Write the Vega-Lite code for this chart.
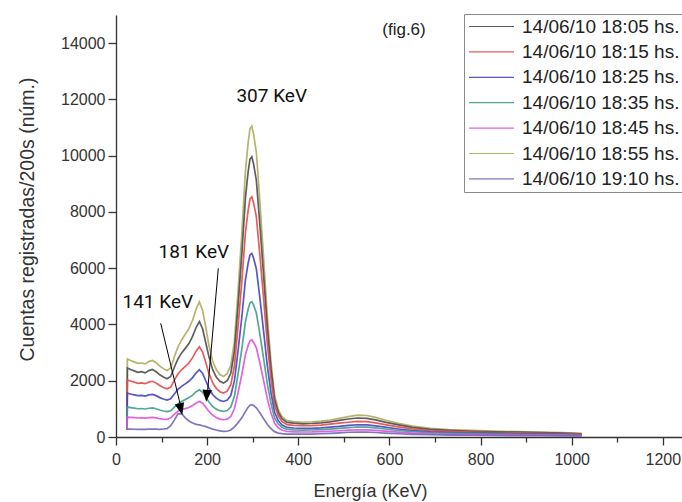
{
"$schema": "https://vega.github.io/schema/vega-lite/v6.json",
"width": 566, "height": 422,
"autosize": {"type": "none"},
"padding": {"left": 116, "top": 15, "right": 0, "bottom": 65},
"background": "white",
"config": {"view": {"stroke": null}, "font": "Liberation Sans"},
"datasets": {
"notes": [
{"label": "307 KeV", "x": 341.7, "y": 12121},
{"label": "181 KeV", "x": 170.7, "y": 6587},
{"label": "141 KeV", "x": 91.7, "y": 4809}
],
"fig": [{"label": "(fig.6)", "x": 632, "y": 14467}],
"arrows": [
{"name": "181", "x1": 224.5, "y1": 5996, "x2": 201.2, "y2": 1671, "hx": 199.1, "hy": 1463},
{"name": "141", "x1": 98.1, "y1": 4042, "x2": 140.4, "y2": 1198, "hx": 142.3, "hy": 990}
],
"spec": [
{"t":"18:55","e":24,"c":250},{"t":"18:55","e":25,"c":2770},{"t":"18:55","e":32,"c":2720},{"t":"18:55","e":40,"c":2670},{"t":"18:55","e":48,"c":2620},{"t":"18:55","e":56,"c":2630},{"t":"18:55","e":64,"c":2600},{"t":"18:55","e":72,"c":2680},{"t":"18:55","e":80,"c":2720},{"t":"18:55","e":88,"c":2640},{"t":"18:55","e":96,"c":2520},{"t":"18:55","e":104,"c":2430},{"t":"18:55","e":112,"c":2360},{"t":"18:55","e":120,"c":2450},{"t":"18:55","e":128,"c":2850},{"t":"18:55","e":136,"c":3200},{"t":"18:55","e":144,"c":3450},{"t":"18:55","e":152,"c":3650},{"t":"18:55","e":160,"c":3850},{"t":"18:55","e":168,"c":4150},{"t":"18:55","e":176,"c":4550},{"t":"18:55","e":183,"c":4800},{"t":"18:55","e":190,"c":4500},{"t":"18:55","e":197,"c":3900},{"t":"18:55","e":204,"c":3250},{"t":"18:55","e":212,"c":2700},{"t":"18:55","e":220,"c":2400},{"t":"18:55","e":228,"c":2220},{"t":"18:55","e":236,"c":2150},{"t":"18:55","e":244,"c":2250},{"t":"18:55","e":252,"c":2544},{"t":"18:55","e":260,"c":3424},{"t":"18:55","e":268,"c":5234},{"t":"18:55","e":276,"c":7190},{"t":"18:55","e":284,"c":9440},{"t":"18:55","e":290,"c":10466},{"t":"18:55","e":294,"c":10954},{"t":"18:55","e":298,"c":11050},{"t":"18:55","e":302,"c":10754},{"t":"18:55","e":308,"c":10114},{"t":"18:55","e":316,"c":8298},{"t":"18:55","e":324,"c":6336},{"t":"18:55","e":332,"c":4306},{"t":"18:55","e":340,"c":2688},{"t":"18:55","e":348,"c":1482},{"t":"18:55","e":356,"c":982},{"t":"18:55","e":364,"c":727},{"t":"18:55","e":375,"c":580},{"t":"18:55","e":390,"c":545},{"t":"18:55","e":410,"c":525},{"t":"18:55","e":430,"c":535},{"t":"18:55","e":450,"c":565},{"t":"18:55","e":470,"c":605},{"t":"18:55","e":490,"c":665},{"t":"18:55","e":510,"c":725},{"t":"18:55","e":530,"c":780},{"t":"18:55","e":550,"c":765},{"t":"18:55","e":570,"c":695},{"t":"18:55","e":590,"c":605},{"t":"18:55","e":620,"c":485},{"t":"18:55","e":650,"c":385},{"t":"18:55","e":690,"c":305},{"t":"18:55","e":730,"c":262},{"t":"18:55","e":780,"c":232},{"t":"18:55","e":830,"c":210},{"t":"18:55","e":880,"c":190},{"t":"18:55","e":930,"c":172},{"t":"18:55","e":980,"c":152},{"t":"18:55","e":1022,"c":130},
{"t":"18:05","e":24,"c":250},{"t":"18:05","e":25,"c":2450},{"t":"18:05","e":32,"c":2400},{"t":"18:05","e":40,"c":2350},{"t":"18:05","e":48,"c":2300},{"t":"18:05","e":56,"c":2320},{"t":"18:05","e":64,"c":2280},{"t":"18:05","e":72,"c":2360},{"t":"18:05","e":80,"c":2400},{"t":"18:05","e":88,"c":2320},{"t":"18:05","e":96,"c":2210},{"t":"18:05","e":104,"c":2130},{"t":"18:05","e":112,"c":2070},{"t":"18:05","e":120,"c":2150},{"t":"18:05","e":128,"c":2480},{"t":"18:05","e":136,"c":2780},{"t":"18:05","e":144,"c":2990},{"t":"18:05","e":152,"c":3150},{"t":"18:05","e":160,"c":3320},{"t":"18:05","e":168,"c":3580},{"t":"18:05","e":176,"c":3900},{"t":"18:05","e":183,"c":4100},{"t":"18:05","e":190,"c":3850},{"t":"18:05","e":197,"c":3350},{"t":"18:05","e":204,"c":2850},{"t":"18:05","e":212,"c":2400},{"t":"18:05","e":220,"c":2130},{"t":"18:05","e":228,"c":1980},{"t":"18:05","e":236,"c":1915},{"t":"18:05","e":244,"c":2000},{"t":"18:05","e":252,"c":2266},{"t":"18:05","e":260,"c":3061},{"t":"18:05","e":268,"c":4701},{"t":"18:05","e":276,"c":6468},{"t":"18:05","e":284,"c":8500},{"t":"18:05","e":290,"c":9432},{"t":"18:05","e":294,"c":9873},{"t":"18:05","e":298,"c":9960},{"t":"18:05","e":302,"c":9693},{"t":"18:05","e":308,"c":9121},{"t":"18:05","e":316,"c":7486},{"t":"18:05","e":324,"c":5715},{"t":"18:05","e":332,"c":3885},{"t":"18:05","e":340,"c":2429},{"t":"18:05","e":348,"c":1337},{"t":"18:05","e":356,"c":884},{"t":"18:05","e":364,"c":653},{"t":"18:05","e":375,"c":520},{"t":"18:05","e":390,"c":490},{"t":"18:05","e":410,"c":470},{"t":"18:05","e":430,"c":480},{"t":"18:05","e":450,"c":505},{"t":"18:05","e":470,"c":540},{"t":"18:05","e":490,"c":590},{"t":"18:05","e":510,"c":640},{"t":"18:05","e":530,"c":675},{"t":"18:05","e":550,"c":665},{"t":"18:05","e":570,"c":610},{"t":"18:05","e":590,"c":530},{"t":"18:05","e":620,"c":430},{"t":"18:05","e":650,"c":340},{"t":"18:05","e":690,"c":270},{"t":"18:05","e":730,"c":235},{"t":"18:05","e":780,"c":205},{"t":"18:05","e":830,"c":185},{"t":"18:05","e":880,"c":170},{"t":"18:05","e":930,"c":155},{"t":"18:05","e":980,"c":135},{"t":"18:05","e":1022,"c":115},
{"t":"18:15","e":24,"c":250},{"t":"18:15","e":25,"c":2030},{"t":"18:15","e":32,"c":1990},{"t":"18:15","e":40,"c":1950},{"t":"18:15","e":48,"c":1910},{"t":"18:15","e":56,"c":1925},{"t":"18:15","e":64,"c":1895},{"t":"18:15","e":72,"c":1950},{"t":"18:15","e":80,"c":1980},{"t":"18:15","e":88,"c":1920},{"t":"18:15","e":96,"c":1830},{"t":"18:15","e":104,"c":1760},{"t":"18:15","e":112,"c":1710},{"t":"18:15","e":120,"c":1770},{"t":"18:15","e":128,"c":2020},{"t":"18:15","e":136,"c":2240},{"t":"18:15","e":144,"c":2390},{"t":"18:15","e":152,"c":2510},{"t":"18:15","e":160,"c":2630},{"t":"18:15","e":168,"c":2820},{"t":"18:15","e":176,"c":3060},{"t":"18:15","e":183,"c":3210},{"t":"18:15","e":190,"c":3020},{"t":"18:15","e":197,"c":2650},{"t":"18:15","e":204,"c":2260},{"t":"18:15","e":212,"c":1930},{"t":"18:15","e":220,"c":1730},{"t":"18:15","e":228,"c":1610},{"t":"18:15","e":236,"c":1560},{"t":"18:15","e":244,"c":1630},{"t":"18:15","e":252,"c":1858},{"t":"18:15","e":260,"c":2549},{"t":"18:15","e":268,"c":3970},{"t":"18:15","e":276,"c":5503},{"t":"18:15","e":284,"c":7264},{"t":"18:15","e":290,"c":8067},{"t":"18:15","e":294,"c":8453},{"t":"18:15","e":298,"c":8535},{"t":"18:15","e":302,"c":8313},{"t":"18:15","e":308,"c":7823},{"t":"18:15","e":316,"c":6420},{"t":"18:15","e":324,"c":4895},{"t":"18:15","e":332,"c":3324},{"t":"18:15","e":340,"c":2077},{"t":"18:15","e":348,"c":1144},{"t":"18:15","e":356,"c":754},{"t":"18:15","e":364,"c":554},{"t":"18:15","e":375,"c":440},{"t":"18:15","e":390,"c":415},{"t":"18:15","e":410,"c":400},{"t":"18:15","e":430,"c":405},{"t":"18:15","e":450,"c":425},{"t":"18:15","e":470,"c":455},{"t":"18:15","e":490,"c":490},{"t":"18:15","e":510,"c":525},{"t":"18:15","e":530,"c":555},{"t":"18:15","e":550,"c":545},{"t":"18:15","e":570,"c":500},{"t":"18:15","e":590,"c":440},{"t":"18:15","e":620,"c":360},{"t":"18:15","e":650,"c":290},{"t":"18:15","e":690,"c":230},{"t":"18:15","e":730,"c":200},{"t":"18:15","e":780,"c":175},{"t":"18:15","e":830,"c":158},{"t":"18:15","e":880,"c":145},{"t":"18:15","e":930,"c":132},{"t":"18:15","e":980,"c":115},{"t":"18:15","e":1022,"c":100},
{"t":"18:25","e":24,"c":250},{"t":"18:25","e":25,"c":1560},{"t":"18:25","e":32,"c":1530},{"t":"18:25","e":40,"c":1500},{"t":"18:25","e":48,"c":1470},{"t":"18:25","e":56,"c":1480},{"t":"18:25","e":64,"c":1455},{"t":"18:25","e":72,"c":1495},{"t":"18:25","e":80,"c":1515},{"t":"18:25","e":88,"c":1470},{"t":"18:25","e":96,"c":1400},{"t":"18:25","e":104,"c":1350},{"t":"18:25","e":112,"c":1315},{"t":"18:25","e":120,"c":1355},{"t":"18:25","e":128,"c":1530},{"t":"18:25","e":136,"c":1690},{"t":"18:25","e":144,"c":1800},{"t":"18:25","e":152,"c":1890},{"t":"18:25","e":160,"c":1980},{"t":"18:25","e":168,"c":2110},{"t":"18:25","e":176,"c":2280},{"t":"18:25","e":183,"c":2390},{"t":"18:25","e":190,"c":2260},{"t":"18:25","e":197,"c":2000},{"t":"18:25","e":204,"c":1740},{"t":"18:25","e":212,"c":1510},{"t":"18:25","e":220,"c":1380},{"t":"18:25","e":228,"c":1300},{"t":"18:25","e":236,"c":1263},{"t":"18:25","e":244,"c":1310},{"t":"18:25","e":252,"c":1483},{"t":"18:25","e":260,"c":2011},{"t":"18:25","e":268,"c":3086},{"t":"18:25","e":276,"c":4247},{"t":"18:25","e":284,"c":5582},{"t":"18:25","e":290,"c":6185},{"t":"18:25","e":294,"c":6471},{"t":"18:25","e":298,"c":6527},{"t":"18:25","e":302,"c":6351},{"t":"18:25","e":308,"c":5973},{"t":"18:25","e":316,"c":4901},{"t":"18:25","e":324,"c":3738},{"t":"18:25","e":332,"c":2537},{"t":"18:25","e":340,"c":1588},{"t":"18:25","e":348,"c":880},{"t":"18:25","e":356,"c":581},{"t":"18:25","e":364,"c":432},{"t":"18:25","e":375,"c":340},{"t":"18:25","e":390,"c":320},{"t":"18:25","e":410,"c":305},{"t":"18:25","e":430,"c":310},{"t":"18:25","e":450,"c":325},{"t":"18:25","e":470,"c":350},{"t":"18:25","e":490,"c":380},{"t":"18:25","e":510,"c":410},{"t":"18:25","e":530,"c":435},{"t":"18:25","e":550,"c":428},{"t":"18:25","e":570,"c":395},{"t":"18:25","e":590,"c":350},{"t":"18:25","e":620,"c":285},{"t":"18:25","e":650,"c":230},{"t":"18:25","e":690,"c":185},{"t":"18:25","e":730,"c":160},{"t":"18:25","e":780,"c":140},{"t":"18:25","e":830,"c":127},{"t":"18:25","e":880,"c":116},{"t":"18:25","e":930,"c":105},{"t":"18:25","e":980,"c":92},{"t":"18:25","e":1022,"c":80},
{"t":"18:35","e":24,"c":250},{"t":"18:35","e":25,"c":1064},{"t":"18:35","e":32,"c":1045},{"t":"18:35","e":40,"c":1025},{"t":"18:35","e":48,"c":1005},{"t":"18:35","e":56,"c":1012},{"t":"18:35","e":64,"c":995},{"t":"18:35","e":72,"c":1022},{"t":"18:35","e":80,"c":1036},{"t":"18:35","e":88,"c":1005},{"t":"18:35","e":96,"c":958},{"t":"18:35","e":104,"c":925},{"t":"18:35","e":112,"c":900},{"t":"18:35","e":120,"c":930},{"t":"18:35","e":128,"c":1060},{"t":"18:35","e":136,"c":1180},{"t":"18:35","e":144,"c":1260},{"t":"18:35","e":152,"c":1330},{"t":"18:35","e":160,"c":1400},{"t":"18:35","e":168,"c":1490},{"t":"18:35","e":176,"c":1610},{"t":"18:35","e":183,"c":1680},{"t":"18:35","e":190,"c":1590},{"t":"18:35","e":197,"c":1420},{"t":"18:35","e":204,"c":1240},{"t":"18:35","e":212,"c":1090},{"t":"18:35","e":220,"c":990},{"t":"18:35","e":228,"c":935},{"t":"18:35","e":236,"c":908},{"t":"18:35","e":244,"c":940},{"t":"18:35","e":252,"c":1068},{"t":"18:35","e":260,"c":1458},{"t":"18:35","e":268,"c":2253},{"t":"18:35","e":276,"c":3113},{"t":"18:35","e":284,"c":4100},{"t":"18:35","e":290,"c":4550},{"t":"18:35","e":294,"c":4765},{"t":"18:35","e":298,"c":4810},{"t":"18:35","e":302,"c":4685},{"t":"18:35","e":308,"c":4413},{"t":"18:35","e":316,"c":3630},{"t":"18:35","e":324,"c":2778},{"t":"18:35","e":332,"c":1898},{"t":"18:35","e":340,"c":1198},{"t":"18:35","e":348,"c":678},{"t":"18:35","e":356,"c":460},{"t":"18:35","e":364,"c":349},{"t":"18:35","e":375,"c":270},{"t":"18:35","e":390,"c":255},{"t":"18:35","e":410,"c":245},{"t":"18:35","e":430,"c":248},{"t":"18:35","e":450,"c":262},{"t":"18:35","e":470,"c":282},{"t":"18:35","e":490,"c":305},{"t":"18:35","e":510,"c":333},{"t":"18:35","e":530,"c":355},{"t":"18:35","e":550,"c":348},{"t":"18:35","e":570,"c":322},{"t":"18:35","e":590,"c":285},{"t":"18:35","e":620,"c":232},{"t":"18:35","e":650,"c":188},{"t":"18:35","e":690,"c":152},{"t":"18:35","e":730,"c":132},{"t":"18:35","e":780,"c":117},{"t":"18:35","e":830,"c":106},{"t":"18:35","e":880,"c":97},{"t":"18:35","e":930,"c":88},{"t":"18:35","e":980,"c":77},{"t":"18:35","e":1022,"c":68},
{"t":"18:45","e":24,"c":250},{"t":"18:45","e":25,"c":709},{"t":"18:45","e":32,"c":700},{"t":"18:45","e":40,"c":690},{"t":"18:45","e":48,"c":675},{"t":"18:45","e":56,"c":680},{"t":"18:45","e":64,"c":668},{"t":"18:45","e":72,"c":690},{"t":"18:45","e":80,"c":700},{"t":"18:45","e":88,"c":680},{"t":"18:45","e":96,"c":650},{"t":"18:45","e":104,"c":630},{"t":"18:45","e":112,"c":625},{"t":"18:45","e":120,"c":680},{"t":"18:45","e":128,"c":800},{"t":"18:45","e":136,"c":920},{"t":"18:45","e":144,"c":980},{"t":"18:45","e":152,"c":1010},{"t":"18:45","e":160,"c":1050},{"t":"18:45","e":168,"c":1120},{"t":"18:45","e":176,"c":1210},{"t":"18:45","e":183,"c":1263},{"t":"18:45","e":190,"c":1200},{"t":"18:45","e":197,"c":1060},{"t":"18:45","e":204,"c":910},{"t":"18:45","e":212,"c":780},{"t":"18:45","e":220,"c":690},{"t":"18:45","e":228,"c":635},{"t":"18:45","e":236,"c":614},{"t":"18:45","e":244,"c":635},{"t":"18:45","e":252,"c":727},{"t":"18:45","e":260,"c":1011},{"t":"18:45","e":268,"c":1587},{"t":"18:45","e":276,"c":2212},{"t":"18:45","e":284,"c":2929},{"t":"18:45","e":290,"c":3257},{"t":"18:45","e":294,"c":3416},{"t":"18:45","e":298,"c":3452},{"t":"18:45","e":302,"c":3366},{"t":"18:45","e":308,"c":3172},{"t":"18:45","e":316,"c":2611},{"t":"18:45","e":324,"c":1998},{"t":"18:45","e":332,"c":1365},{"t":"18:45","e":340,"c":862},{"t":"18:45","e":348,"c":486},{"t":"18:45","e":356,"c":328},{"t":"18:45","e":364,"c":246},{"t":"18:45","e":375,"c":195},{"t":"18:45","e":390,"c":185},{"t":"18:45","e":410,"c":178},{"t":"18:45","e":430,"c":180},{"t":"18:45","e":450,"c":190},{"t":"18:45","e":470,"c":205},{"t":"18:45","e":490,"c":222},{"t":"18:45","e":510,"c":242},{"t":"18:45","e":530,"c":258},{"t":"18:45","e":550,"c":253},{"t":"18:45","e":570,"c":235},{"t":"18:45","e":590,"c":208},{"t":"18:45","e":620,"c":170},{"t":"18:45","e":650,"c":138},{"t":"18:45","e":690,"c":112},{"t":"18:45","e":730,"c":97},{"t":"18:45","e":780,"c":86},{"t":"18:45","e":830,"c":78},{"t":"18:45","e":880,"c":71},{"t":"18:45","e":930,"c":65},{"t":"18:45","e":980,"c":57},{"t":"18:45","e":1022,"c":50},
{"t":"19:10","e":24,"c":250},{"t":"19:10","e":25,"c":284},{"t":"19:10","e":32,"c":280},{"t":"19:10","e":40,"c":275},{"t":"19:10","e":48,"c":270},{"t":"19:10","e":56,"c":275},{"t":"19:10","e":64,"c":268},{"t":"19:10","e":72,"c":280},{"t":"19:10","e":80,"c":285},{"t":"19:10","e":88,"c":278},{"t":"19:10","e":96,"c":272},{"t":"19:10","e":104,"c":285},{"t":"19:10","e":112,"c":300},{"t":"19:10","e":120,"c":400},{"t":"19:10","e":128,"c":600},{"t":"19:10","e":136,"c":820},{"t":"19:10","e":144,"c":830},{"t":"19:10","e":152,"c":680},{"t":"19:10","e":160,"c":570},{"t":"19:10","e":168,"c":500},{"t":"19:10","e":176,"c":450},{"t":"19:10","e":183,"c":430},{"t":"19:10","e":190,"c":400},{"t":"19:10","e":197,"c":370},{"t":"19:10","e":204,"c":330},{"t":"19:10","e":212,"c":280},{"t":"19:10","e":220,"c":250},{"t":"19:10","e":228,"c":220},{"t":"19:10","e":236,"c":200},{"t":"19:10","e":244,"c":205},{"t":"19:10","e":252,"c":250},{"t":"19:10","e":260,"c":360},{"t":"19:10","e":268,"c":510},{"t":"19:10","e":276,"c":680},{"t":"19:10","e":284,"c":900},{"t":"19:10","e":290,"c":1060},{"t":"19:10","e":294,"c":1130},{"t":"19:10","e":298,"c":1146},{"t":"19:10","e":302,"c":1120},{"t":"19:10","e":308,"c":1040},{"t":"19:10","e":316,"c":850},{"t":"19:10","e":324,"c":650},{"t":"19:10","e":332,"c":450},{"t":"19:10","e":340,"c":300},{"t":"19:10","e":348,"c":190},{"t":"19:10","e":356,"c":140},{"t":"19:10","e":364,"c":120},{"t":"19:10","e":375,"c":105},{"t":"19:10","e":390,"c":100},{"t":"19:10","e":410,"c":100},{"t":"19:10","e":430,"c":105},{"t":"19:10","e":450,"c":115},{"t":"19:10","e":470,"c":130},{"t":"19:10","e":490,"c":150},{"t":"19:10","e":510,"c":168},{"t":"19:10","e":530,"c":178},{"t":"19:10","e":550,"c":175},{"t":"19:10","e":570,"c":160},{"t":"19:10","e":590,"c":140},{"t":"19:10","e":620,"c":115},{"t":"19:10","e":650,"c":95},{"t":"19:10","e":690,"c":80},{"t":"19:10","e":730,"c":70},{"t":"19:10","e":780,"c":62},{"t":"19:10","e":830,"c":55},{"t":"19:10","e":880,"c":50},{"t":"19:10","e":930,"c":45},{"t":"19:10","e":980,"c":40},{"t":"19:10","e":1022,"c":35}
]
},
"layer": [
{
"data": {"name": "spec"},
"mark": {"type": "line", "strokeWidth": 1.7, "opacity": 0.9},
"encoding": {
"x": {"field": "e", "type": "quantitative", "title": "Energía (KeV)",
"scale": {"domain": [0, 1242], "nice": false, "zero": false},
"axis": {"values": [0,100,200,300,400,500,600,700,800,900,1000,1100,1200],
"labelExpr": "datum.value % 200 == 0 ? datum.label : ''",
"tickSize": {"condition": {"test": "datum.value % 200 == 0", "value": 8}, "value": 5},
"grid": false, "format": "d", "labelFlush": false, "labelOverlap": false,
"labelFontSize": 16, "labelColor": "#333", "labelPadding": 6,
"domainColor": "#333", "tickColor": "#333", "domainWidth": 1.3, "tickWidth": 1.3,
"titleFontSize": 18, "titleFontWeight": "normal", "titleColor": "#333", "titlePadding": 15, "titleX": 254}},
"y": {"field": "c", "type": "quantitative", "title": "Cuentas registradas/200s (núm.)",
"scale": {"domain": [0, 15000], "nice": false},
"axis": {"values": [0,1000,2000,3000,4000,5000,6000,7000,8000,9000,10000,11000,12000,13000,14000,15000],
"labelExpr": "datum.value % 2000 == 0 ? datum.label : ''",
"tickSize": {"condition": {"test": "datum.value % 2000 == 0", "value": 8}, "value": 5},
"grid": false, "format": "d", "labelFlush": false, "labelOverlap": false,
"labelFontSize": 16, "labelColor": "#333", "labelPadding": 3,
"domainColor": "#333", "tickColor": "#333", "domainWidth": 1.3, "tickWidth": 1.3,
"titleFontSize": 19.5, "titleFontWeight": "normal", "titleColor": "#333", "titlePadding": 23, "titleY": 204}},
"color": {"field": "t", "type": "nominal",
"scale": {"domain": ["18:05","18:15","18:25","18:35","18:45","18:55","19:10"],
"range": ["#4d4d4d","#e34a4a","#4545c0","#3f9f8a","#e050e0","#acac5c","#7068b4"]},
"legend": {"orient": "none", "legendX": 348, "legendY": -1, "title": null,
"strokeColor": "#8a8a8a", "fillColor": "white", "padding": 3,
"symbolType": "M-3,0H3", "symbolSize": 225, "symbolOffset": 15, "symbolStrokeWidth": 1.2,
"labelFontSize": 19, "labelColor": "#222", "labelOffset": 21, "rowPadding": 5.4, "labelLimit": 400,
"labelExpr": "'14/06/10 ' + datum.label + ' hs.'"}}
}
},
{
"data": {"name": "arrows"},
"mark": {"type": "rule", "color": "black", "strokeWidth": 1},
"encoding": {
"x": {"field": "x1", "type": "quantitative", "title": "Energía (KeV)"},
"y": {"field": "y1", "type": "quantitative", "title": "Cuentas registradas/200s (núm.)"},
"x2": {"field": "x2"}, "y2": {"field": "y2"}
}
},
{
"data": {"name": "arrows"},
"transform": [{"filter": "datum.name == '181'"}],
"mark": {"type": "point", "shape": "M-0.8,-1L0.8,-1L0,1Z", "size": 144, "filled": true, "color": "black", "opacity": 1, "angle": 5},
"encoding": {
"x": {"field": "hx", "type": "quantitative", "title": "Energía (KeV)"},
"y": {"field": "hy", "type": "quantitative", "title": "Cuentas registradas/200s (núm.)"}
}
},
{
"data": {"name": "arrows"},
"transform": [{"filter": "datum.name == '141'"}],
"mark": {"type": "point", "shape": "M-0.8,-1L0.8,-1L0,1Z", "size": 144, "filled": true, "color": "black", "opacity": 1, "angle": 346},
"encoding": {
"x": {"field": "hx", "type": "quantitative", "title": "Energía (KeV)"},
"y": {"field": "hy", "type": "quantitative", "title": "Cuentas registradas/200s (núm.)"}
}
},
{
"data": {"name": "notes"},
"mark": {"type": "text", "font": "Roboto", "fontSize": 19, "color": "#111", "align": "center", "baseline": "middle"},
"encoding": {
"x": {"field": "x", "type": "quantitative", "title": "Energía (KeV)"},
"y": {"field": "y", "type": "quantitative", "title": "Cuentas registradas/200s (núm.)"},
"text": {"field": "label"}
}
},
{
"data": {"name": "fig"},
"mark": {"type": "text", "font": "Liberation Sans", "fontSize": 17, "color": "#222", "align": "center", "baseline": "middle"},
"encoding": {
"x": {"field": "x", "type": "quantitative", "title": "Energía (KeV)"},
"y": {"field": "y", "type": "quantitative", "title": "Cuentas registradas/200s (núm.)"},
"text": {"field": "label"}
}
}
]
}
